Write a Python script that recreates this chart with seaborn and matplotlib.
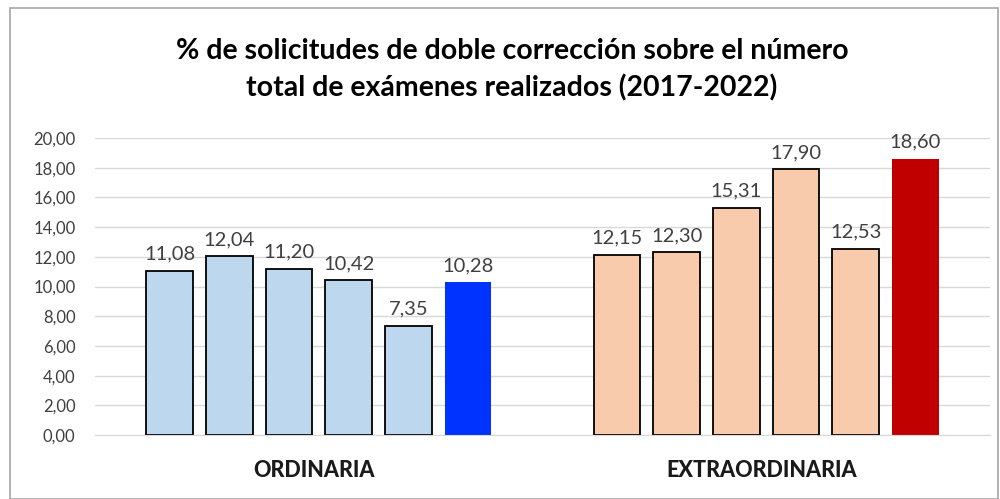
import pandas as pd
import matplotlib.pyplot as plt
import matplotlib.transforms as mtrans
import seaborn as sns
from matplotlib.patches import Rectangle

# Datos
convocatorias = ["ORDINARIA", "EXTRAORDINARIA"]
anios = ["2017", "2018", "2019", "2020", "2021", "2022"]
ordinaria = [11.08, 12.04, 11.20, 10.42, 7.35, 10.28]
extraordinaria = [12.15, 12.30, 15.31, 17.90, 12.53, 18.60]

titulo = "% de solicitudes de doble corrección sobre el número\ntotal de exámenes realizados (2017-2022)"

df = pd.DataFrame({
    "convocatoria": [convocatorias[0]] * len(anios) + [convocatorias[1]] * len(anios),
    "anio": anios + anios,
    "valor": ordinaria + extraordinaria,
})

sns.set_style("white")
plt.rcParams["font.family"] = ["Lato", "DejaVu Sans"]

fig = plt.figure(figsize=(10, 4.99), dpi=100)
ax = fig.add_axes([0.095, 0.128, 0.895, 0.5954])

sns.barplot(data=df, x="convocatoria", y="valor", hue="anio", order=convocatorias,
            hue_order=anios, gap=0.22, legend=False, ax=ax, errorbar=None)

# colores por grupo: años anteriores claros con borde, ultimo año intenso
claros = ["#BDD7EE", "#F8CBAD"]
fuertes = ["#0033FF", "#C00000"]
for i, cont in enumerate(ax.containers):
    for j, bar in enumerate(cont):
        if i == len(anios) - 1:
            bar.set_facecolor(fuertes[j])
            bar.set_edgecolor(fuertes[j])
            bar.set_linewidth(0)
        else:
            bar.set_facecolor(claros[j])
            bar.set_edgecolor("black")
            bar.set_linewidth(1.3)
    ax.bar_label(cont, labels=[f"{v:.2f}".replace(".", ",") for v in cont.datavalues],
                 padding=6, fontsize=14.5, color="#404040")

ax.set_ylim(0, 20)
ax.set_yticks(range(0, 21, 2))
ax.set_yticklabels([f"{t:.2f}".replace(".", ",") for t in range(0, 21, 2)],
                   fontsize=12, color="#404040")
ax.set_xlim(-0.5, 1.5)
ax.set_xticks([0, 1])
ax.set_xticklabels([])
ax.set_xlabel("")
ax.set_ylabel("")
ax.tick_params(axis="y", length=0, pad=14)
ax.tick_params(axis="x", length=0)

# etiquetas de categoria en negrita bajo cada grupo
trans = mtrans.blended_transform_factory(ax.transData, ax.transAxes)
for k, nombre in enumerate(convocatorias):
    ax.text(k - 0.01, -0.118, nombre, transform=trans, ha="center", va="center",
            fontsize=15.5, fontweight=900, color="#1a1a1a")

ax.yaxis.grid(True, color="#D9D9D9", linewidth=1)
ax.set_axisbelow(True)
for s in ["top", "right", "left"]:
    ax.spines[s].set_visible(False)
ax.spines["bottom"].set_color("#D9D9D9")

fig.text(0.512, 0.86, titulo, ha="center", va="center", fontsize=20.5,
         fontweight="bold", color="black", linespacing=1.45)

# marco del grafico
fig.patches.append(Rectangle((0.01, 0.0), 0.988, 0.984, transform=fig.transFigure,
                             fill=False, edgecolor="#A6A6A6", linewidth=1.2))

plt.savefig("out.png", dpi=100)
